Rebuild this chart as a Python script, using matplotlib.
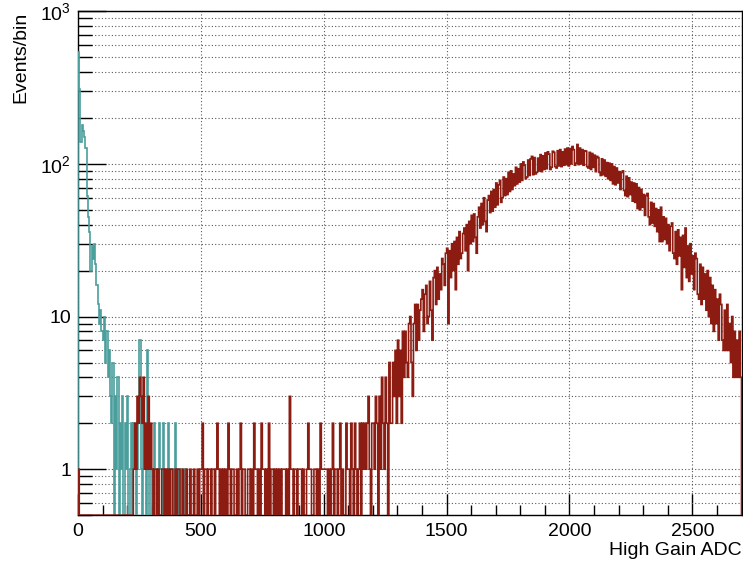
import numpy as np
import matplotlib
matplotlib.use("Agg")
import matplotlib.pyplot as plt
from matplotlib.ticker import MultipleLocator, LogLocator, FixedLocator, FixedFormatter, NullFormatter

plt.rcParams['font.family'] = ['Liberation Sans', 'DejaVu Sans']
plt.rcParams['mathtext.fontset'] = 'custom'
plt.rcParams['mathtext.rm'] = 'Liberation Sans'
plt.rcParams['mathtext.it'] = 'Liberation Sans:italic'

# bin width in ADC counts
bin_width = 5

# pedestal (teal), bins from 0 to 450
teal_counts = [
    540, 310, 140, 180, 165, 150, 128, 62, 45, 36, 20, 29, 24, 30, 22, 16, 12, 9, 11, 8,
    7, 10, 5, 8, 4, 6, 3, 2, 5, 0, 3, 1, 4, 0, 2, 1, 3, 0, 2, 1,
    3, 0, 1, 2, 0, 2, 1, 0, 1, 2, 7, 1, 0, 2, 1, 0, 6, 2, 0, 1,
    1, 0, 2, 0, 1, 0, 2, 1, 0, 2, 1, 0, 0, 2, 0, 1, 0, 1, 0, 2,
    0, 1, 0, 0, 1, 0, 0, 1, 0, 0,
]

# signal (dark red), bins from 0 to 1100
red_low = [
    1, 0, 0, 0, 0, 0, 0, 0, 0, 0, 0, 0, 0, 0, 0, 0, 0, 0, 0, 0,
    0, 0, 0, 0, 0, 0, 0, 0, 0, 0, 0, 0, 0, 0, 0, 0, 0, 0, 0, 0,
    0, 0, 0, 0, 0, 1, 2, 1, 3, 2, 4, 3, 2, 4, 1, 2, 1, 3, 1, 2,
    1, 0, 1, 1, 0, 1, 0, 0, 1, 1, 0, 1, 0, 1, 0, 1, 1, 0, 0, 1,
    0, 1, 1, 0, 0, 1, 0, 0, 1, 0, 0, 1, 0, 0, 1, 0, 0, 1, 0, 1,
    1, 2, 0, 1, 1, 0, 1, 1, 0, 1, 1, 0, 1, 2, 1, 0, 1, 0, 1, 0,
    1, 0, 2, 1, 0, 1, 1, 0, 0, 1, 0, 1, 2, 0, 1, 1, 0, 0, 1, 1,
    0, 1, 0, 2, 1, 1, 0, 1, 0, 2, 1, 1, 0, 1, 0, 2, 0, 1, 1, 0,
    1, 0, 1, 0, 1, 0, 1, 1, 1, 0, 1, 0, 3, 1, 1, 0, 1, 1, 0, 1,
    1, 1, 0, 1, 0, 0, 1, 2, 1, 1, 0, 0, 1, 1, 0, 1, 0, 2, 1, 1,
    1, 1, 1, 0, 1, 0, 1, 2, 0, 1, 1, 0, 1, 2, 0, 1, 0, 0, 2, 1,
]

# signal (dark red), bins from 1100 to 2700
red_peak = [
    1, 0, 2, 1, 0, 2, 1, 0, 1, 2, 0, 2, 1, 2, 1, 2, 3, 1, 0, 2,
    2, 1, 3, 2, 0, 3, 1, 4, 2, 1, 4, 2, 0, 5, 2, 2, 5, 3, 6, 2,
    7, 3, 6, 2, 8, 4, 8, 5, 4, 9, 10, 5, 3, 9, 12, 6, 12, 7, 11, 13,
    15, 8, 14, 16, 9, 10, 17, 11, 7, 18, 20, 12, 21, 13, 19, 15, 24, 22, 16, 26,
    28, 9, 27, 18, 30, 20, 31, 15, 33, 22, 36, 24, 26, 35, 38, 27, 40, 20, 42, 30,
    46, 31, 47, 33, 26, 45, 52, 38, 55, 40, 60, 42, 36, 58, 62, 48, 66, 49, 68, 52,
    75, 54, 73, 78, 56, 60, 82, 62, 80, 63, 88, 66, 90, 68, 86, 72, 95, 74, 93, 76,
    100, 78, 103, 98, 80, 82, 106, 84, 108, 112, 85, 110, 86, 88, 109, 90, 115, 89, 113, 92,
    118, 93, 120, 116, 92, 95, 121, 119, 96, 94, 122, 97, 124, 96, 120, 98, 125, 99, 127, 97,
    126, 100, 130, 124, 98, 101, 134, 99, 127, 100, 124, 98, 122, 121, 96, 94, 119, 92, 117, 95,
    114, 89, 112, 110, 88, 84, 108, 85, 106, 83, 102, 80, 101, 78, 100, 74, 96, 73, 94, 75,
    89, 68, 88, 90, 67, 62, 83, 61, 81, 63, 76, 57, 75, 56, 74, 51, 70, 50, 68, 52,
    63, 46, 62, 64, 45, 40, 56, 41, 55, 39, 51, 36, 50, 31, 52, 31, 45, 32, 44, 30,
    40, 27, 39, 41, 26, 24, 36, 22, 37, 25, 33, 15, 34, 21, 38, 18, 29, 17, 30, 19,
    25, 15, 26, 24, 14, 13, 22, 12, 21, 13, 19, 11, 20, 10, 18, 9, 16, 8, 15, 9,
    13, 7, 14, 12, 7, 6, 11, 6, 12, 6, 9, 5, 10, 4, 8, 4, 7, 4, 8, 4,
]

y_min, y_max = 0.5, 1000
x_min, x_max = 0, 2700
y_ticks = [1, 10, 100, 1000]
y_ticklabels = ['1', '10', '$10^{2}$', '$10^{3}$']

teal = np.array(teal_counts, dtype=float)
red = np.array(red_low + red_peak, dtype=float)
# empty bins sit on the frame bottom like in ROOT
teal = np.where(teal > 0, teal, y_min)
red = np.where(red > 0, red, y_min)
teal_edges = np.arange(len(teal) + 1) * bin_width
red_edges = np.arange(len(red) + 1) * bin_width

fig = plt.figure(figsize=(7.43, 5.63), dpi=100)
ax = fig.add_axes([0.105, 0.085, 0.893, 0.895])

ax.stairs(teal, teal_edges, baseline=y_min, color='#4a9e9c', linewidth=1.2, zorder=3)
ax.stairs(red, red_edges, baseline=y_min, color='#8c1c12', linewidth=1.2, zorder=4)

ax.set_yscale('log')
ax.set_xlim(x_min, x_max)
ax.set_ylim(y_min, y_max)

ax.xaxis.set_major_locator(MultipleLocator(500))
ax.xaxis.set_minor_locator(MultipleLocator(100))
ax.yaxis.set_major_locator(FixedLocator(y_ticks))
ax.yaxis.set_major_formatter(FixedFormatter(y_ticklabels))
ax.yaxis.set_minor_locator(LogLocator(base=10, subs=np.arange(2, 10), numticks=20))
ax.yaxis.set_minor_formatter(NullFormatter())

ax.tick_params(axis='both', which='both', direction='in', labelsize=14, colors='black')
ax.tick_params(axis='x', which='major', length=15, width=1, pad=6)
ax.tick_params(axis='x', which='minor', length=7.5, width=1)
ax.tick_params(axis='y', which='major', length=20, width=1, pad=5)
ax.tick_params(axis='y', which='minor', length=10, width=1)

ax.grid(True, axis='x', which='major', color='0.35', linestyle=(0, (1, 2)), linewidth=0.8)
ax.grid(True, axis='y', which='both', color='0.35', linestyle=(0, (1, 2)), linewidth=0.8)
ax.set_axisbelow(True)

for s in ax.spines.values():
    s.set_linewidth(1)
    s.set_color('black')

ax.set_xlabel('High Gain ADC', fontsize=14, loc='right', labelpad=1)
ax.set_ylabel('Events/bin', fontsize=14, loc='top')
ax.yaxis.set_label_coords(-0.073, 1.0)

fig.savefig('out.png', dpi=100)
